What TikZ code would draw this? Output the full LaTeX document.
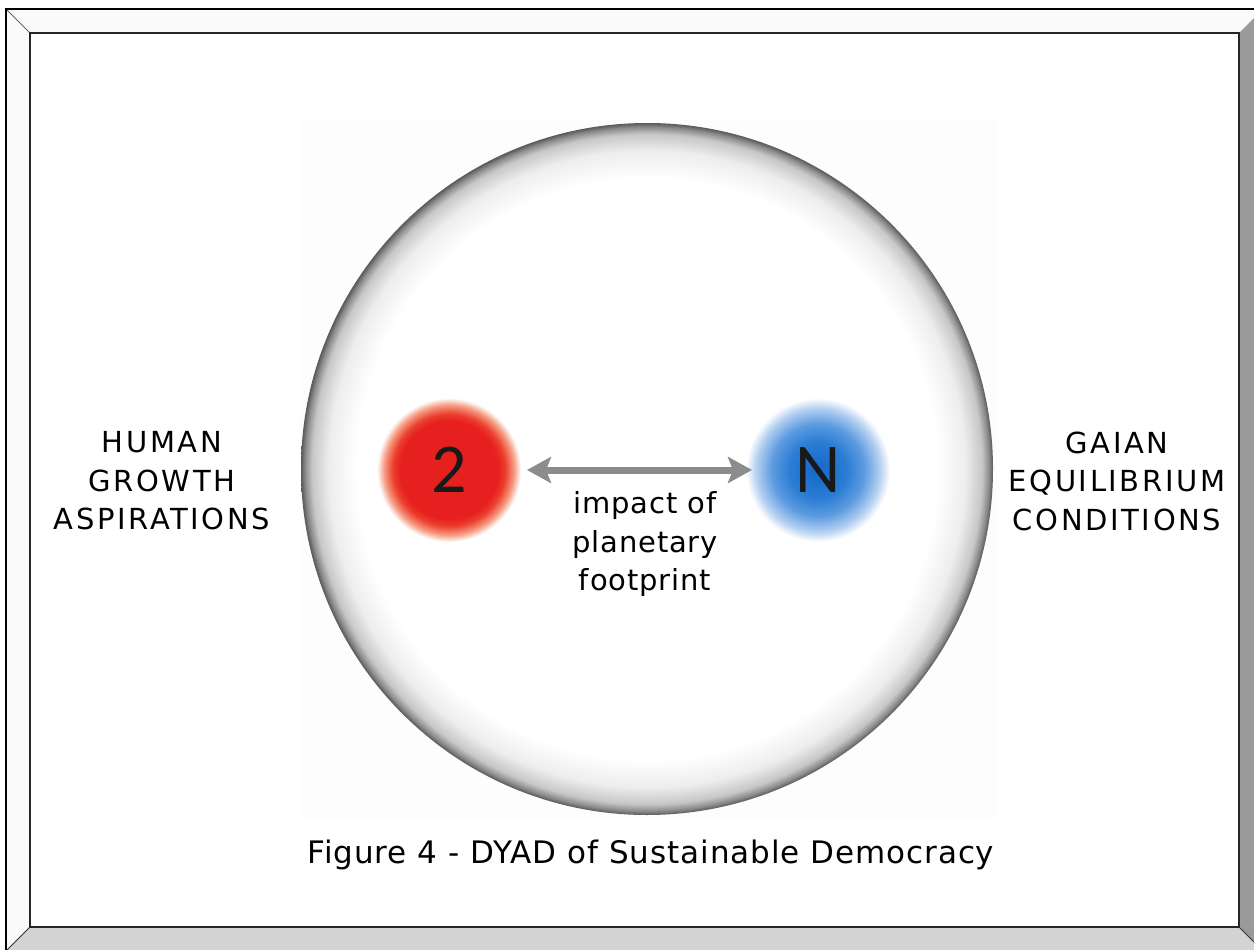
\documentclass[tikz,border=0pt]{standalone}
\usepackage{fontspec}
\setmainfont{DejaVu Sans}[LetterSpace=3]
\newfontfamily\capsfont{DejaVu Sans}[LetterSpace=9]
\newfontfamily\numfont{Carlito}
\usetikzlibrary{arrows.meta}
\definecolor{bevlight}{HTML}{FAFAFA}
\definecolor{bevright}{HTML}{9A9A9A}
\definecolor{bevbottom}{HTML}{D3D3D3}
\definecolor{sqbg}{HTML}{FDFDFD}
\definecolor{rc}{HTML}{E6201E}
\definecolor{rc2}{HTML}{EC3E2E}
\definecolor{rc3}{HTML}{F59A80}
\definecolor{bc}{HTML}{1469C6}
\definecolor{bc2}{HTML}{2B7DD4}
\definecolor{bc3}{HTML}{5D9BE0}
\definecolor{bc4}{HTML}{B4D0F1}
\definecolor{arrgray}{HTML}{8C8C8C}
\pgfdeclareradialshading{bigring}{\pgfpoint{0bp}{0bp}}{color(0bp)=(white); color(21bp)=(white); color(23bp)=(black!7); color(24.2bp)=(black!22); color(24.7bp)=(black!45); color(25bp)=(black!65); color(50bp)=(white)}
\pgfdeclareradialshading{redball}{\pgfpoint{0bp}{0bp}}{color(0bp)=(rc); color(17bp)=(rc); color(19.5bp)=(rc2); color(22.5bp)=(rc3); color(25bp)=(white); color(50bp)=(white)}
\pgfdeclareradialshading{blueball}{\pgfpoint{0bp}{0bp}}{color(0bp)=(bc); color(10bp)=(bc2); color(16bp)=(bc3); color(21.5bp)=(bc4); color(25bp)=(white); color(50bp)=(white)}
\tikzset{
  label text/.style={align=center, font=\fontsize{29}{38.5}\selectfont, text=black},
  caps text/.style={label text, font=\capsfont\fontsize{29}{38.5}\selectfont},
  ball/.style={circle, minimum size=144pt, inner sep=0pt, outer sep=0pt, font=\numfont\fontsize{70}{70}\selectfont, text=black!90},
  arr/.style={draw=arrgray, line width=7pt, {Stealth[length=24pt,width=26pt,inset=5pt]}-{Stealth[length=24pt,width=26pt,inset=5pt]}},
}
\begin{document}
\begin{tikzpicture}[x=1pt,y=-1pt]
\useasboundingbox (0,0) rectangle (1254,950);
\fill[white] (0,0) rectangle (1254,950);
% bevelled frame
\fill[bevlight] (6,9) -- (1263,9) -- (1239,33) -- (30,33) -- cycle;
\fill[bevlight] (6,9) -- (30,33) -- (30,927) -- (6,951) -- cycle;
\fill[bevright] (1263,9) -- (1263,951) -- (1239,927) -- (1239,33) -- cycle;
\fill[bevbottom] (6,951) -- (1263,951) -- (1239,927) -- (30,927) -- cycle;
\draw[black!60, line width=1pt] (6,9) -- (30,33);
\draw[black!80, line width=1pt] (6,951) -- (30,927);
\draw[black!80, line width=1pt] (1263,951) -- (1239,927);
\draw[black, line width=2pt] (6,9) rectangle (1263,951);
\draw[black!85, line width=2pt, fill=white] (30,33) rectangle (1239,927);
% faint square behind the circle
\fill[sqbg] (300,120) rectangle (997,818);
% main circle
\node[circle, minimum size=692pt, inner sep=0pt, shading=bigring] (globe) at (647,469) {};
% balls
\node[ball, shading=redball] (two) at (449,470) {2};
\node[ball, shading=blueball] (n) at (818,470) {N};
\draw[arr, shorten <=6pt, shorten >=-6pt] (two.east) -- (n.west);
% texts
\node[caps text] (human) at (162,481) {HUMAN\\GROWTH\\ASPIRATIONS};
\node[caps text] (gaian) at (1117,481) {GAIAN\\EQUILIBRIUM\\CONDITIONS};
\node[label text] (impact) at (645,544) {impact of\\planetary\\footprint};
\node[label text, font=\fontsize{31}{38}\selectfont] (caption) at (651,855) {Figure 4 - DYAD of Sustainable Democracy};
\end{tikzpicture}
\end{document}
